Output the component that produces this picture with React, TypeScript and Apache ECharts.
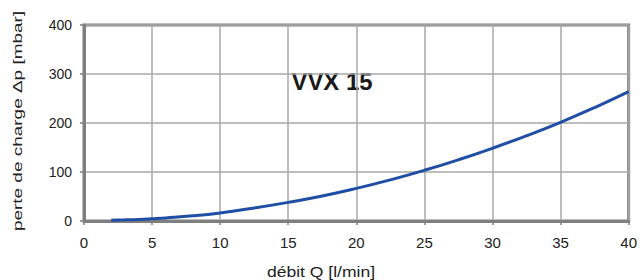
import React, { useEffect, useRef } from "react";
import * as echarts from "echarts";

const flowQ = [2, 3, 4, 5, 6, 8, 10, 12.5, 15, 17.5, 20, 22.5, 25, 27.5, 30, 32.5, 35, 37.5, 40];
const pressureDrop = [1.5, 2.3, 3.3, 4.7, 6.3, 10.5, 16.5, 26.5, 38, 51, 66.5, 84, 103.5, 125, 148.5, 174, 201.5, 231.5, 264];
const xTicks = [0, 5, 10, 15, 20, 25, 30, 35, 40];
const yTicks = [0, 100, 200, 300, 400];
const seriesLabel = "VVX 15";
const xTitle = "débit Q [l/min]";
const yTitle = "perte de charge Δp [mbar]";

const FONT = "Liberation Sans";

export default function App() {
  const ref = useRef<HTMLDivElement>(null);
  useEffect(() => {
    if (!ref.current) return;
    const chart = echarts.init(ref.current, null, { renderer: "svg" });
    const data = flowQ.map((q, i) => [q, pressureDrop[i]]);
    chart.setOption({
      animation: false,
      backgroundColor: "#ffffff",
      textStyle: { fontFamily: FONT },
      grid: {
        left: 84,
        right: 5,
        top: 25,
        bottom: 59,
        show: true,
        borderColor: "#7f7f7f",
        borderWidth: 3,
      },
      xAxis: {
        type: "value",
        min: xTicks[0],
        max: xTicks[xTicks.length - 1],
        interval: 5,
        axisLine: { show: true, lineStyle: { color: "#7f7f7f", width: 3 } },
        axisTick: { show: true, length: 4, lineStyle: { color: "#7f7f7f", width: 1.5 } },
        axisLabel: { fontSize: 15, color: "#222", margin: 14, fontFamily: FONT },
        splitLine: { show: true, lineStyle: { color: "#a8a8a8", width: 1.5 } },
      },
      yAxis: {
        type: "value",
        min: yTicks[0],
        max: yTicks[yTicks.length - 1],
        interval: 100,
        axisLine: { show: true, lineStyle: { color: "#7f7f7f", width: 3 } },
        axisTick: { show: true, length: 4, lineStyle: { color: "#7f7f7f", width: 1.5 } },
        axisLabel: { fontSize: 14, color: "#222", margin: 12, fontFamily: FONT },
        splitLine: { show: true, lineStyle: { color: "#a8a8a8", width: 1.5 } },
      },
      series: [
        {
          type: "line",
          data,
          smooth: true,
          showSymbol: false,
          lineStyle: { color: "#1f4ea6", width: 3 },
        },
      ],
      graphic: [
        {
          type: "text",
          x: 332,
          y: 82.5,
          scaleX: 1.04,
          style: {
            text: seriesLabel,
            fontSize: 23,
            fontWeight: "bold",
            fontFamily: FONT,
            fill: "#1a1a1a",
            align: "center",
            verticalAlign: "middle",
            textAlign: "center",
            textVerticalAlign: "middle",
          },
        },
        {
          type: "text",
          x: 321,
          y: 271.5,
          scaleX: 1.17,
          style: {
            text: xTitle,
            fontSize: 15,
            fontFamily: FONT,
            fill: "#222",
            align: "center",
            verticalAlign: "middle",
            textAlign: "center",
            textVerticalAlign: "middle",
          },
        },
        {
          type: "text",
          x: 17.5,
          y: 121,
          rotation: Math.PI / 2,
          scaleX: 1.58,
          style: {
            text: yTitle,
            fontSize: 12,
            fontFamily: FONT,
            fill: "#222",
            align: "center",
            verticalAlign: "middle",
            textAlign: "center",
            textVerticalAlign: "middle",
          },
        },
      ],
    });
    return () => chart.dispose();
  }, []);
  return (
    <div
      ref={ref}
      style={{ position: "fixed", left: 0, top: 0, width: 640, height: 280 }}
    />
  );
}
